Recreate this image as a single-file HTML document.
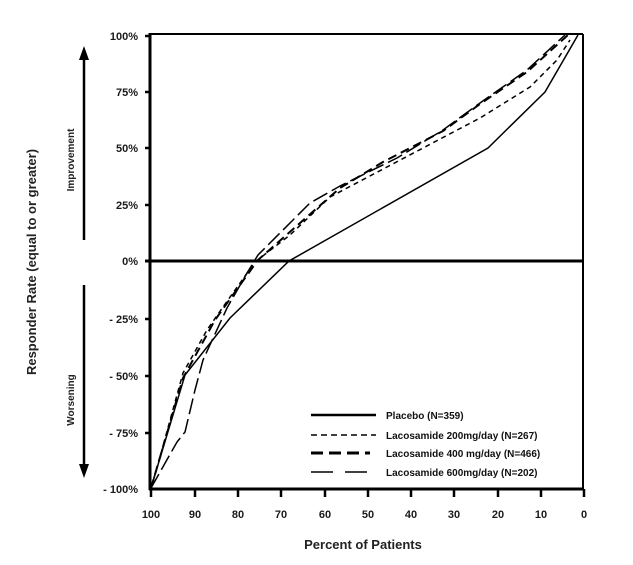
<!DOCTYPE html><html><head><style>body{margin:0;background:#fff}</style></head><body>
<svg width="633" height="560" xmlns="http://www.w3.org/2000/svg" font-family="Liberation Sans, Arial, sans-serif" font-weight="bold">
<g font-size="11" fill="#1a1a1a" text-anchor="end">
<text x="138" y="40">100%</text><text x="138" y="96">75%</text><text x="138" y="152">50%</text><text x="138" y="209">25%</text><text x="138" y="265">0%</text>
<text x="138" y="323">- 25%</text><text x="138" y="380">- 50%</text><text x="138" y="437">- 75%</text><text x="138" y="493">- 100%</text>
</g>
<g font-size="11" fill="#1a1a1a" text-anchor="middle">
<text x="151" y="518">100</text><text x="195" y="518">90</text><text x="238" y="518">80</text><text x="281" y="518">70</text><text x="325" y="518">60</text><text x="368" y="518">50</text><text x="411" y="518">40</text><text x="454" y="518">30</text><text x="498" y="518">20</text><text x="541" y="518">10</text><text x="584" y="518">0</text>
</g>
<text x="363" y="549" font-size="13" text-anchor="middle" fill="#222">Percent of Patients</text>
<text transform="translate(36,262) rotate(-90)" font-size="13" text-anchor="middle" fill="#222">Responder Rate (equal to or greater)</text>
<text transform="translate(74,160) rotate(-90)" font-size="10" text-anchor="middle" fill="#222">Improvement</text>
<text transform="translate(74,400) rotate(-90)" font-size="10" text-anchor="middle" fill="#222">Worsening</text>
<line x1="84" y1="240" x2="84" y2="58" stroke="#000" stroke-width="2.5"/><polygon points="84,46 79,60 89,60" fill="#000"/>
<line x1="84" y1="285" x2="84" y2="466" stroke="#000" stroke-width="2.5"/><polygon points="84,478 79,464 89,464" fill="#000"/>
<g stroke="#000" fill="none">
<line x1="150" y1="34" x2="583" y2="34" stroke-width="2"/><line x1="583" y1="34" x2="583" y2="489" stroke-width="2"/>
<line x1="150" y1="33" x2="150" y2="490" stroke-width="3"/><line x1="149" y1="489" x2="584" y2="489" stroke-width="3"/>
<line x1="145" y1="261" x2="584" y2="261" stroke-width="3"/>
</g>
<g stroke="#000" stroke-width="2.5">
<line x1="145" y1="36" x2="150" y2="36"/><line x1="145" y1="92" x2="150" y2="92"/><line x1="145" y1="148" x2="150" y2="148"/><line x1="145" y1="205" x2="150" y2="205"/><line x1="145" y1="319" x2="150" y2="319"/><line x1="145" y1="376" x2="150" y2="376"/><line x1="145" y1="433" x2="150" y2="433"/>
<line x1="151" y1="489" x2="151" y2="497"/><line x1="195" y1="489" x2="195" y2="497"/><line x1="238" y1="489" x2="238" y2="497"/><line x1="281" y1="489" x2="281" y2="497"/><line x1="325" y1="489" x2="325" y2="497"/><line x1="368" y1="489" x2="368" y2="497"/><line x1="411" y1="489" x2="411" y2="497"/><line x1="454" y1="489" x2="454" y2="497"/><line x1="498" y1="489" x2="498" y2="497"/><line x1="541" y1="489" x2="541" y2="497"/><line x1="584" y1="489" x2="584" y2="497"/>
</g>
<g fill="none" stroke="#000" stroke-width="1.5">
<polyline points="151,488 185,375 230,318 289,261 488,148 545,92 578,35"/>
<polyline stroke-dasharray="5,4" points="151,488 160,457 183,373 207,330 223,307 255,262 290,235 330,197 387,167 480,118 530,87 557,60 570,40"/>
<polyline stroke-dasharray="9,5" stroke-width="2" points="151,488 170,423 183,378 215,320 240,285 258,260 300,223 340,188 383,162 443,131 480,104 527,72 568,35"/>
<polyline stroke-dasharray="16,5" points="151,488 177,442 185,432 195,390 203,360 227,308 247,273 258,255 310,203 340,186 397,158 443,130 480,103 527,70 565,35"/>
</g>
<g stroke="#000" fill="none">
<line x1="311" y1="415" x2="376" y2="415" stroke-width="2.5"/>
<line x1="311" y1="435" x2="376" y2="435" stroke-width="1.5" stroke-dasharray="6,4"/>
<line x1="311" y1="453" x2="370" y2="453" stroke-width="3" stroke-dasharray="12,6"/>
<line x1="311" y1="472" x2="376" y2="472" stroke-width="1.5" stroke-dasharray="22,12"/>
</g>
<g font-size="10" fill="#111">
<text x="386" y="419">Placebo (N=359)</text>
<text x="386" y="439">Lacosamide  200mg/day  (N=267)</text>
<text x="386" y="457">Lacosamide  400 mg/day  (N=466)</text>
<text x="386" y="476">Lacosamide  600mg/day  (N=202)</text>
</g>
</svg>
</body></html>
